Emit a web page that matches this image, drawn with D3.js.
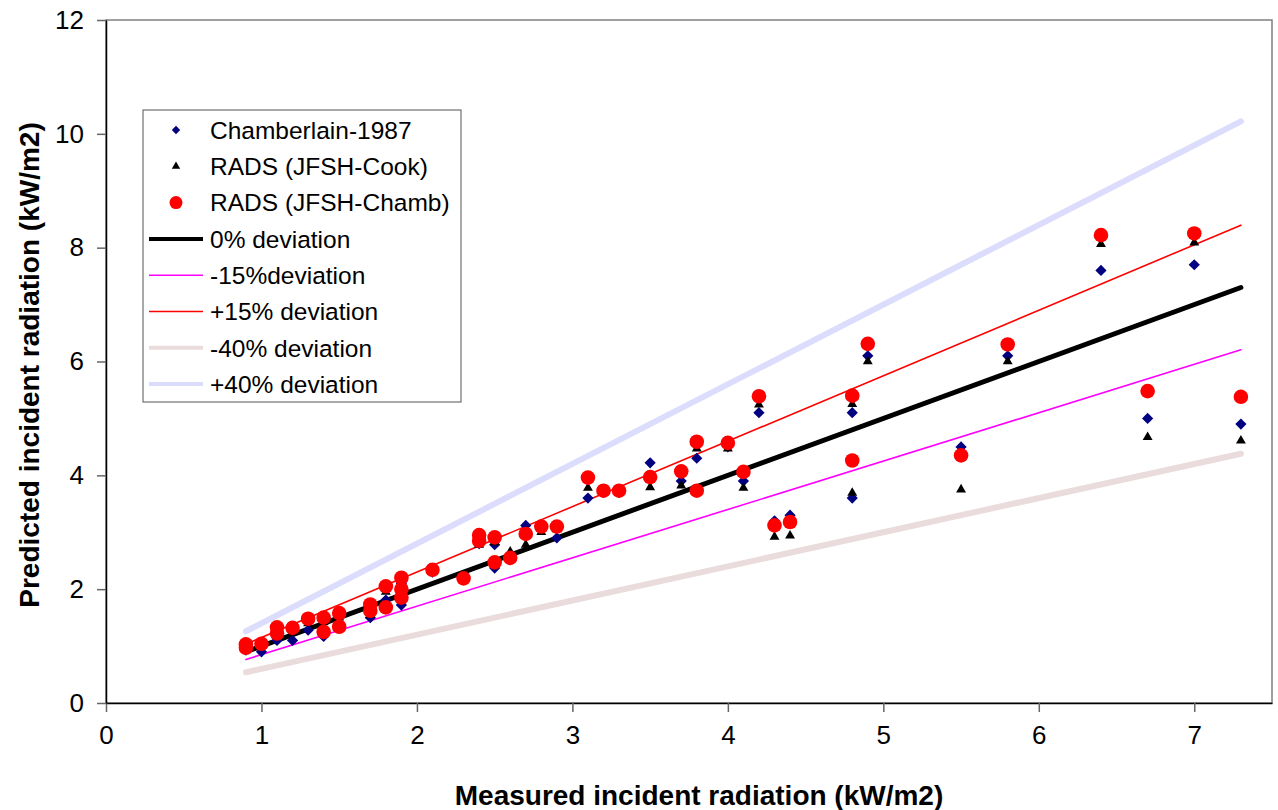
<!DOCTYPE html>
<html>
<head>
<meta charset="utf-8">
<title>Predicted vs measured incident radiation</title>
<script src="https://d3js.org/d3.v7.min.js"></script>
<style>
  body { margin: 0; background: #fff; }
  svg text { font-family: "Liberation Sans", Arial, sans-serif; fill: #000; }
  .tick text { font-size: 26px; }
  .axis-title { font-size: 28px; font-weight: bold; }
  .legend text { font-size: 24.5px; }
</style>
</head>
<body>
<script>
// measured values (x) shared by the three series
var measured = [0.9, 0.9, 1.0, 1.1, 1.1, 1.2, 1.3, 1.4, 1.4, 1.5, 1.5, 1.7, 1.7, 1.8, 1.8,
                1.9, 1.9, 1.9, 2.1, 2.3, 2.4, 2.4, 2.5, 2.5, 2.6, 2.7, 2.8, 2.9, 3.1, 3.2,
                3.3, 3.5, 3.7, 3.8, 3.8, 4.0, 4.1, 4.2, 4.3, 4.4, 4.8, 4.8, 4.9, 5.5, 5.8,
                6.4, 6.7, 7.0, 7.3];

var chamberlain = [0.93, 0.95, 0.9, 1.1, 1.15, 1.1, 1.28, 1.45, 1.17, 1.55, 1.32, 1.5, 1.6, 1.81, 1.7,
                   2.1, 1.9, 1.72, 2.3, 2.2, 2.9, 2.8, 2.78, 2.37, 2.55, 3.12, 3.05, 2.9, 3.6, 3.7,
                   3.7, 4.22, 3.9, 4.3, 3.72, 4.5, 3.9, 5.1, 3.2, 3.3, 5.1, 3.6, 6.1, 4.5, 6.1,
                   7.6, 5.0, 7.7, 4.9];

var radsCook = [0.97, 0.95, 1.0, 1.2, 1.2, 1.25, 1.4, 1.42, 1.22, 1.5, 1.3, 1.6, 1.55, 1.95, 1.7,
                2.1, 1.9, 1.8, 2.3, 2.2, 2.78, 2.8, 2.82, 2.45, 2.66, 2.78, 3.0, 3.05, 3.78, 3.7,
                3.7, 3.79, 3.82, 4.47, 3.7, 4.47, 3.78, 5.24, 2.92, 2.94, 5.25, 3.69, 6.0, 3.75, 6.0,
                8.06, 4.67, 8.09, 4.61];

var radsChamb = [1.03, 0.97, 1.04, 1.33, 1.22, 1.32, 1.48, 1.5, 1.25, 1.58, 1.34, 1.73, 1.62, 2.05, 1.68,
                 2.2, 2.0, 1.85, 2.34, 2.19, 2.95, 2.85, 2.91, 2.47, 2.55, 2.97, 3.1, 3.1, 3.96, 3.73,
                 3.73, 3.97, 4.07, 4.59, 3.73, 4.57, 4.06, 5.39, 3.12, 3.18, 5.4, 4.26, 6.31, 4.35, 6.3,
                 8.22, 5.48, 8.25, 5.38];

// deviation lines, end points [x0, y0, x1, y1]
var lineNames = ["0% deviation", "-15%deviation", "+15% deviation", "-40% deviation", "+40% deviation"];
var lineEnds = [[0.9, 0.9, 7.3, 7.3],
                [0.9, 0.765, 7.3, 6.205],
                [0.9, 1.035, 7.3, 8.395],
                [0.9, 0.54, 7.3, 4.38],
                [0.9, 1.26, 7.3, 10.22]];
var lineColors = ["#000000", "#ff00ff", "#ff0000", "#eadcdc", "#dcdcfc"];
var lineWidths = [5, 1.6, 1.6, 6, 6];

var xTicks = [0, 1, 2, 3, 4, 5, 6, 7];
var yTicks = [0, 2, 4, 6, 8, 10, 12];

var w = 1278, h = 810;
var pLeft = 106, pRight = 1272, pTop = 20, pBottom = 703;

var svg = d3.select("body").append("svg")
    .attr("width", w)
    .attr("height", h);

var x = d3.scaleLinear().domain([0, 7.5]).range([pLeft, pRight]);
var y = d3.scaleLinear().domain([0, 12]).range([pBottom, pTop]);

// plot frame (top / right in grey)
svg.append("rect")
    .attr("x", pLeft).attr("y", pTop)
    .attr("width", pRight - pLeft).attr("height", pBottom - pTop)
    .attr("fill", "#fff")
    .attr("stroke", "#808080")
    .attr("stroke-width", 1.5);

// deviation lines, light ones first
var order = [4, 3, 1, 2, 0];
svg.selectAll("line.dev")
    .data(order)
    .enter()
    .append("line")
    .attr("class", "dev")
    .attr("x1", function (i) { return x(lineEnds[i][0]); })
    .attr("y1", function (i) { return y(lineEnds[i][1]); })
    .attr("x2", function (i) { return x(lineEnds[i][2]); })
    .attr("y2", function (i) { return y(lineEnds[i][3]); })
    .attr("stroke", function (i) { return lineColors[i]; })
    .attr("stroke-width", function (i) { return lineWidths[i]; })
    .attr("stroke-linecap", "round");

var diamond = d3.symbol().type(d3.symbolDiamond2).size(80);
var triangle = d3.symbol().type(d3.symbolTriangle2).size(70);

svg.selectAll("path.cham")
    .data(measured)
    .enter()
    .append("path")
    .attr("class", "cham")
    .attr("d", diamond)
    .attr("fill", "#000080")
    .attr("transform", function (d, i) { return "translate(" + x(d) + "," + y(chamberlain[i]) + ")"; });

svg.selectAll("path.cook")
    .data(measured)
    .enter()
    .append("path")
    .attr("class", "cook")
    .attr("d", triangle)
    .attr("fill", "#000")
    .attr("transform", function (d, i) { return "translate(" + x(d) + "," + y(radsCook[i]) + ")"; });

svg.selectAll("circle.chamb")
    .data(measured)
    .enter()
    .append("circle")
    .attr("class", "chamb")
    .attr("cx", function (d) { return x(d); })
    .attr("cy", function (d, i) { return y(radsChamb[i]); })
    .attr("r", 7.3)
    .attr("fill", "#ff0000");

// axes
var xAxis = d3.axisBottom(x).tickValues(xTicks).tickSize(9).tickSizeOuter(0).tickPadding(14);
var gx = svg.append("g")
    .attr("transform", "translate(0," + pBottom + ")")
    .call(xAxis);
gx.select(".domain").attr("stroke", "#000").attr("stroke-width", 1.5);
gx.selectAll(".tick line").attr("stroke", "#666").attr("stroke-width", 1.5);

var yAxis = d3.axisLeft(y).tickValues(yTicks).tickSize(9).tickSizeOuter(0).tickPadding(13);
var gy = svg.append("g")
    .attr("transform", "translate(" + pLeft + ",0)")
    .call(yAxis);
gy.select(".domain").attr("stroke", "#000").attr("stroke-width", 1.5);
gy.selectAll(".tick line").attr("stroke", "#666").attr("stroke-width", 1.5);
svg.selectAll("g").attr("font-family", null).attr("font-size", null);

svg.append("text")
    .attr("class", "axis-title")
    .attr("x", 699)
    .attr("y", 805)
    .attr("text-anchor", "middle")
    .text("Measured incident radiation (kW/m2)");

svg.append("text")
    .attr("class", "axis-title")
    .attr("transform", "translate(39,365) rotate(-90)")
    .attr("text-anchor", "middle")
    .text("Predicted incident radiation (kW/m2)");

// legend
var legend = svg.append("g").attr("class", "legend");
legend.append("rect")
    .attr("x", 143).attr("y", 110)
    .attr("width", 318).attr("height", 292)
    .attr("fill", "#fff")
    .attr("stroke", "#555")
    .attr("stroke-width", 1);

var legendNames = ["Chamberlain-1987", "RADS (JFSH-Cook)", "RADS (JFSH-Chamb)"].concat(lineNames);
var rowY = function (i) { return 130 + i * 36.3; };

legend.append("path").attr("d", d3.symbol().type(d3.symbolDiamond2).size(45))
    .attr("fill", "#000080").attr("transform", "translate(176," + rowY(0) + ")");
legend.append("path").attr("d", d3.symbol().type(d3.symbolTriangle2).size(50))
    .attr("fill", "#000").attr("transform", "translate(176," + rowY(1) + ")");
legend.append("circle").attr("cx", 176).attr("cy", rowY(2)).attr("r", 6.5).attr("fill", "#ff0000");

legend.selectAll("line")
    .data(lineNames)
    .enter()
    .append("line")
    .attr("x1", 149).attr("x2", 203)
    .attr("y1", function (d, i) { return rowY(i + 3); })
    .attr("y2", function (d, i) { return rowY(i + 3); })
    .attr("stroke", function (d, i) { return lineColors[i]; })
    .attr("stroke-width", function (d, i) { return Math.min(lineWidths[i], 4); });

legend.selectAll("text")
    .data(legendNames)
    .enter()
    .append("text")
    .attr("x", 210)
    .attr("y", function (d, i) { return rowY(i); })
    .attr("dy", "0.36em")
    .text(function (d) { return d; });
</script>
</body>
</html>
